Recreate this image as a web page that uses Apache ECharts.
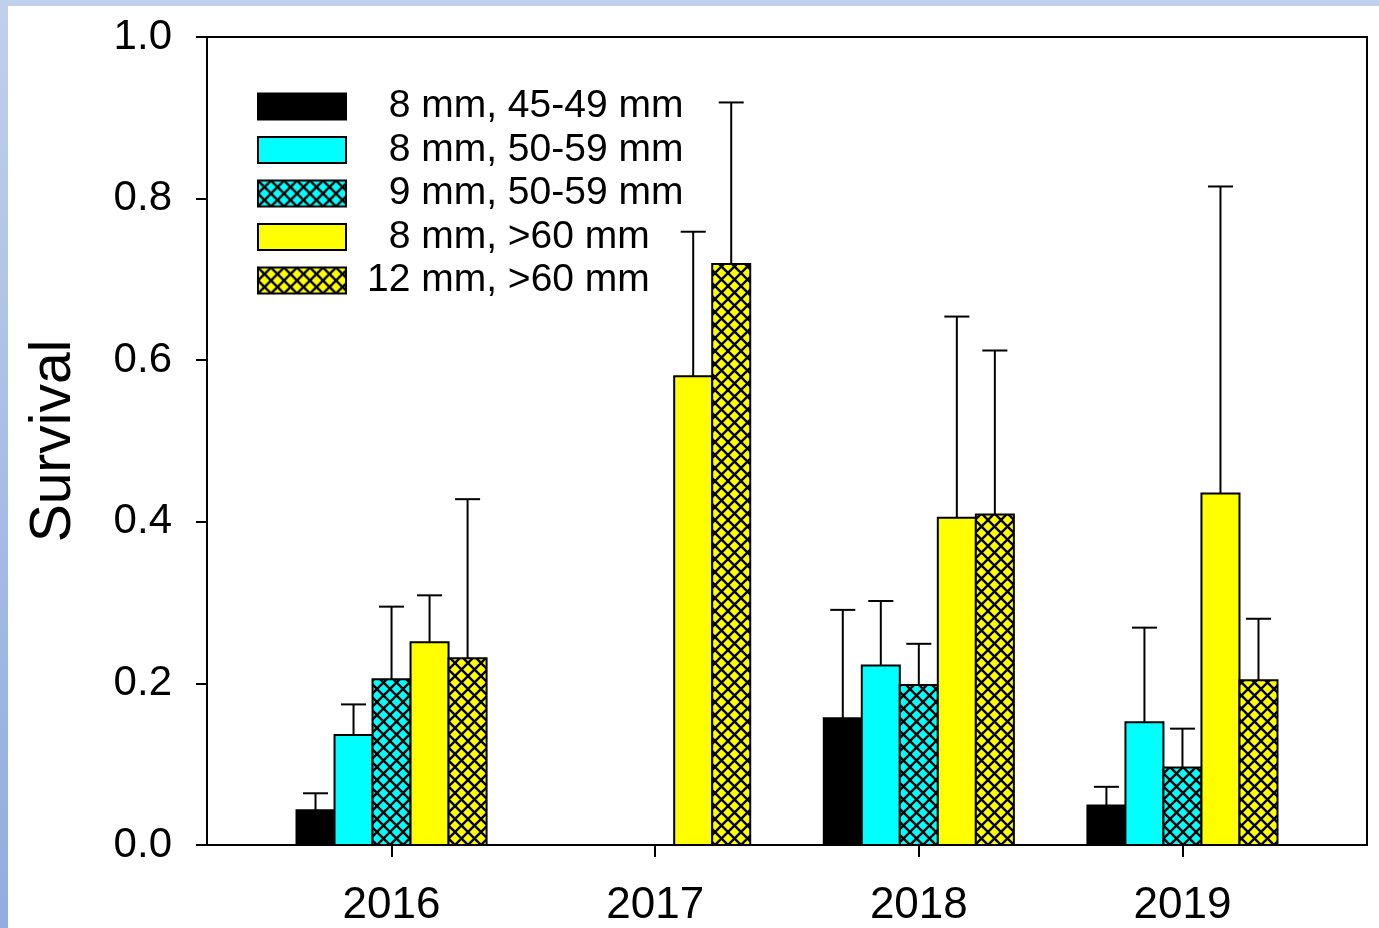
<!DOCTYPE html>
<html>
<head>
<meta charset="utf-8">
<script src="https://cdn.jsdelivr.net/npm/echarts@6/dist/echarts.min.js"></script>
<style>
html,body{margin:0;padding:0;background:#fff;}
#chart{width:1379px;height:928px;}
</style>
</head>
<body>
<div id="chart"></div>
<script>
// ---- data ----
const years = [2016, 2017, 2018, 2019];
const seriesNames = ['8 mm, 45-49 mm', '8 mm, 50-59 mm', '9 mm, 50-59 mm', '8 mm, >60 mm', '12 mm, >60 mm'];
// mean survival per year (null = no bar)
const meanBlack     = [0.043, null, 0.157, 0.049];
const meanCyan      = [0.136, null, 0.222, 0.152];
const meanCyanHatch = [0.205, null, 0.198, 0.096];
const meanYellow    = [0.251, 0.580, 0.405, 0.435];
const meanYellowHatch = [0.231, 0.719, 0.409, 0.204];
// upper end of error bar
const upperBlack     = [0.064, null, 0.291, 0.072];
const upperCyan      = [0.174, null, 0.302, 0.269];
const upperCyanHatch = [0.295, null, 0.249, 0.144];
const upperYellow    = [0.309, 0.759, 0.654, 0.815];
const upperYellowHatch = [0.428, 0.919, 0.612, 0.280];
const yTicks = [0, 0.2, 0.4, 0.6, 0.8, 1.0];

const means = [meanBlack, meanCyan, meanCyanHatch, meanYellow, meanYellowHatch];
const uppers = [upperBlack, upperCyan, upperCyanHatch, upperYellow, upperYellowHatch];

// ---- styles ----
function hatch(bg) {
  const s = 13;
  const c = document.createElement('canvas');
  c.width = s; c.height = s;
  const g = c.getContext('2d');
  g.fillStyle = bg; g.fillRect(0, 0, s, s);
  g.strokeStyle = '#000'; g.lineWidth = 2.4;
  for (const o of [-s, 0, s]) {
    g.beginPath(); g.moveTo(o, 0); g.lineTo(o + s, s); g.stroke();
    g.beginPath(); g.moveTo(o + s, 0); g.lineTo(o, s); g.stroke();
  }
  return { image: c, repeat: 'repeat' };
}
const fills = ['#000000', '#00ffff', hatch('#00ffff'), '#ffff00', hatch('#ffff00')];
const BW = 0.1442;      // bar width in axis units
const CAP = 0.095;      // error cap width in axis units
const FONT = '"Liberation Sans", Arial, sans-serif';

const chart = echarts.init(document.getElementById('chart'), null, { renderer: 'canvas' });

const series = seriesNames.map((name, si) => {
  const data = [];
  years.forEach((y, i) => {
    if (means[si][i] != null) data.push([y, means[si][i], uppers[si][i]]);
  });
  return {
    type: 'custom',
    name: name,
    itemStyle: { color: fills[si], borderColor: '#000', borderWidth: 2 },
    encode: { x: 0, y: [1, 2] },
    data: data,
    renderItem: function (params, api) {
      const x = api.value(0), v = api.value(1), e = api.value(2);
      const off = (si - 2) * BW;
      const tl = api.coord([x + off - BW / 2, v]);
      const br = api.coord([x + off + BW / 2, 0]);
      const c = api.coord([x + off, e]);
      const cl = api.coord([x + off - CAP / 2, e]);
      const cr = api.coord([x + off + CAP / 2, e]);
      return {
        type: 'group',
        children: [
          { type: 'line', shape: { x1: c[0], y1: tl[1], x2: c[0], y2: c[1] }, style: { stroke: '#000', lineWidth: 2 } },
          { type: 'line', shape: { x1: cl[0], y1: c[1], x2: cr[0], y2: c[1] }, style: { stroke: '#000', lineWidth: 2 } },
          { type: 'rect', shape: { x: tl[0], y: tl[1], width: br[0] - tl[0], height: br[1] - tl[1] },
            style: { fill: fills[si], stroke: '#000', lineWidth: 2 } }
        ]
      };
    }
  };
});

chart.setOption({
  animation: false,
  backgroundColor: {
    type: 'linear', x: 0, y: 0, x2: 0, y2: 1,
    colorStops: [{ offset: 0, color: '#bfd0ea' }, { offset: 1, color: '#93acdf' }]
  },
  graphic: [{
    type: 'rect', z: -100, silent: true,
    shape: { x: 8, y: 6, width: 1371, height: 922 },
    style: { fill: '#ffffff' }
  }],
  textStyle: { fontFamily: FONT },
  grid: { left: 207, top: 37, right: 12, bottom: 81, show: true, borderColor: '#000', borderWidth: 2, backgroundColor: 'transparent' },
  legend: {
    orient: 'vertical', left: 257, top: 87, padding: 0,
    itemWidth: 88, itemHeight: 26, itemGap: 4.5,
    selectedMode: false,
    icon: 'rect',
    formatter: n => (n.startsWith('12') ? '' : '  ') + n,
    textStyle: { fontSize: 39, color: '#000', fontFamily: FONT, lineHeight: 26, padding: [0, 0, 0, 16] },
    data: seriesNames
  },
  xAxis: {
    type: 'value', min: 2015.3, max: 2019.7,
    splitLine: { show: false },
    axisLine: { show: true, onZero: false, lineStyle: { color: '#000', width: 2 } },
    axisTick: { show: true, customValues: years, length: 12, lineStyle: { color: '#000', width: 2 } },
    axisLabel: { customValues: years, formatter: v => String(v), fontSize: 44, color: '#000', margin: 39, fontFamily: FONT }
  },
  yAxis: {
    type: 'value', min: 0, max: 1, interval: 0.2,
    name: 'Survival', nameLocation: 'middle', nameRotate: 90, nameGap: 124,
    nameTextStyle: { fontSize: 57, color: '#000', fontFamily: FONT },
    splitLine: { show: false },
    axisLine: { show: true, lineStyle: { color: '#000', width: 2 } },
    axisTick: { show: true, length: 11, lineStyle: { color: '#000', width: 2 } },
    axisLabel: { formatter: v => v.toFixed(1), fontSize: 42, color: '#000', margin: 35, fontFamily: FONT }
  },
  series: series
});
</script>
</body>
</html>
